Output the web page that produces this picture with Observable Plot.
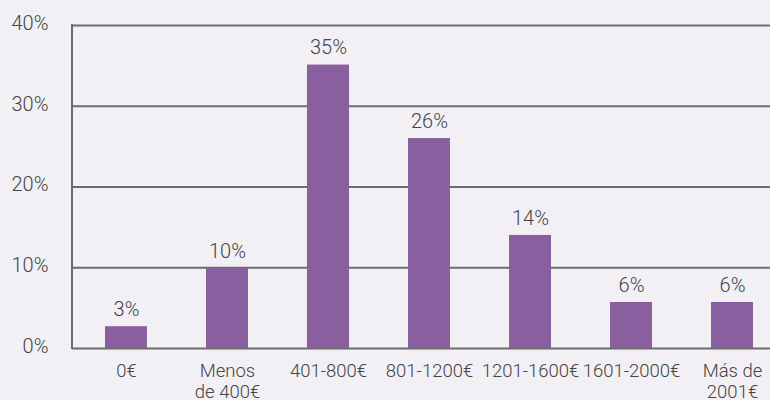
<!DOCTYPE html>
<html>
<head>
<meta charset="utf-8">
<script src="https://cdn.jsdelivr.net/npm/d3@7"></script>
<script src="https://cdn.jsdelivr.net/npm/@observablehq/plot@0.6"></script>
<style>
  html, body { margin: 0; padding: 0; background: #F2F0F5; }
  #chart svg { display: block; }
</style>
</head>
<body>
<div id="chart"></div>
<script>
const categories = ["0€", "Menos de 400€", "401-800€", "801-1200€", "1201-1600€", "1601-2000€", "Más de 2001€"];
const tickLabels = ["0€", "Menos\nde 400€", "401-800€", "801-1200€", "1201-1600€", "1601-2000€", "Más de\n2001€"];
const values = [2.7, 9.9, 35.1, 26.0, 14.0, 5.7, 5.7];
const valueLabels = ["3%", "10%", "35%", "26%", "14%", "6%", "6%"];
const yTicks = [0, 10, 20, 30, 40];

const data = categories.map((c, i) => ({cat: c, v: values[i], label: valueLabels[i]}));
const tickMap = new Map(categories.map((c, i) => [c, tickLabels[i]]));

const W = 770, H = 400;
const mL = 72, mT = 25, mB = 52;

const chart = Plot.plot({
  width: W,
  height: H,
  marginLeft: mL,
  marginRight: 0,
  marginTop: mT,
  marginBottom: mB,
  style: {background: "#F2F0F5", fontFamily: "Roboto, sans-serif", fontWeight: 300, fontSize: "19px", color: "#444"},
  x: {domain: categories, range: [75.5, 782.5], paddingInner: 0.584, paddingOuter: 0.292, label: null},
  y: {domain: [0, 40], label: null},
  marks: [
    Plot.ruleY(yTicks, {y: d => d, stroke: "#6b6b6b", strokeWidth: 2}),
    Plot.barY(data, {x: "cat", y: "v", fill: "#895FA0"}),
    Plot.text(data, {x: "cat", y: "v", text: "label", dy: -17, fill: "#444", fontSize: 20, fontWeight: 300}),
    Plot.axisY({ticks: yTicks, tickSize: 0, tickPadding: 0, dx: -24, dy: -2, tickFormat: d => d + "%", fill: "#444", fontSize: 20, fontWeight: 300, textAnchor: "end", label: null}),
    Plot.axisX({tickSize: 0, tickPadding: 14, tickFormat: d => tickMap.get(d), lineHeight: 1.12, fill: "#444", fontSize: 18.5, fontWeight: 300, label: null}),
    (index, scales, values, dims) => {
      const g = d3.create("svg:line")
        .attr("x1", mL).attr("x2", mL)
        .attr("y1", scales.y(40) - 1).attr("y2", scales.y(0) + 1)
        .attr("stroke", "#6b6b6b").attr("stroke-width", 2);
      return g.node();
    }
  ]
});
document.getElementById("chart").appendChild(chart);
</script>
</body>
</html>
